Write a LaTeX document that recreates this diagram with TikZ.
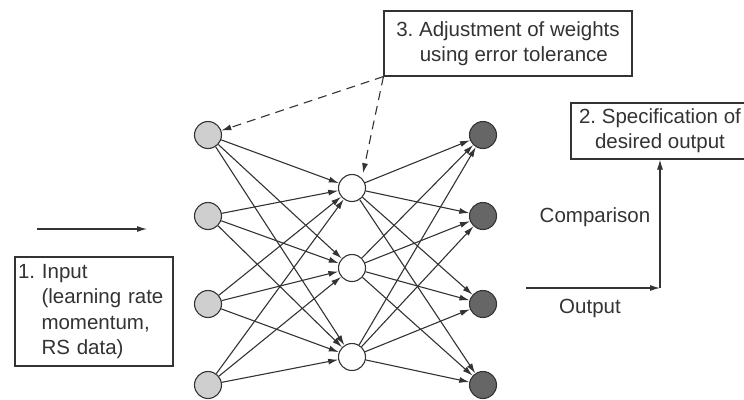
\documentclass[tikz,border=0pt]{standalone}
\usepackage{fontspec}
\setmainfont{Liberation Sans}
\usetikzlibrary{arrows.meta}
\frenchspacing
\definecolor{ink}{HTML}{333333}
\definecolor{infill}{HTML}{CFCFCF}
\definecolor{outfill}{HTML}{666666}
\begin{document}
\begin{tikzpicture}[x=1pt,y=-1pt,
  every node/.style={font=\fontsize{20.5pt}{25.3pt}\selectfont, text=ink},
  neuron/.style={circle, draw=ink, line width=1.1pt, minimum size=27pt, inner sep=0pt},
  innode/.style={neuron, fill=infill},
  hidnode/.style={neuron, fill=white},
  outnode/.style={neuron, fill=outfill},
  wire/.style={draw=ink, line width=1.1pt, -{Latex[length=10pt,width=6pt]}},
  dashwire/.style={wire, dash pattern=on 9pt off 6pt},
  labelbox/.style={draw=ink, line width=1.1pt, fill=white}
]
\useasboundingbox (0,0) rectangle (744,399);

% nodes
\node[innode] (i1) at (208,135) {};
\node[innode] (i2) at (208,216) {};
\node[innode] (i3) at (208,304) {};
\node[innode] (i4) at (208,385) {};
\node[hidnode] (h1) at (352,188) {};
\node[hidnode] (h2) at (352,268) {};
\node[hidnode] (h3) at (352,357) {};
\node[outnode] (o1) at (483,135) {};
\node[outnode] (o2) at (483,216) {};
\node[outnode] (o3) at (483,304) {};
\node[outnode] (o4) at (483,385) {};

% connections
\foreach \a in {i1,i2,i3,i4}
  \foreach \b in {h1,h2,h3}
    \draw[wire] (\a) -- (\b);
\foreach \a in {h1,h2,h3}
  \foreach \b in {o1,o2,o3,o4}
    \draw[wire] (\a) -- (\b);

% boxes
\node[labelbox, align=left, text width=152pt, inner xsep=3pt, minimum height=109pt] (b1) at (94,311.5)
  {1. Input\\\hspace*{23.5pt}(learning rate\\\hspace*{23.5pt}momentum,\\\hspace*{23.5pt}RS data)};
\node[labelbox, align=left, minimum width=248pt, minimum height=65pt] (b3) at (508,43.5)
  {3. Adjustment of weights\\\hspace*{23.5pt}using error tolerance};
\node[labelbox, align=center, minimum width=178pt, minimum height=56pt, inner sep=0pt] (b2) at (660,131)
  {2. Specification of\\desired output};

% input arrow
\coordinate (inS) at (37,229);
\coordinate (inE) at (147,229);
\draw[wire] (inS) -- (inE);

% dashed feedback
\draw[dashwire] (b3.south west) -- (i1);
\draw[dashwire, shorten >=5pt] (b3.south west) -- (h1.north east);

% output / comparison
\coordinate (oS) at (526,288);
\coordinate (oC) at (660,288);
\draw[wire] (oS) -- (oC);
\draw[wire] (oC) -- (b2.south);
\node (cmp) at (595,217) {Comparison};
\node (outl) at (590,308) {Output};
\end{tikzpicture}
\end{document}
